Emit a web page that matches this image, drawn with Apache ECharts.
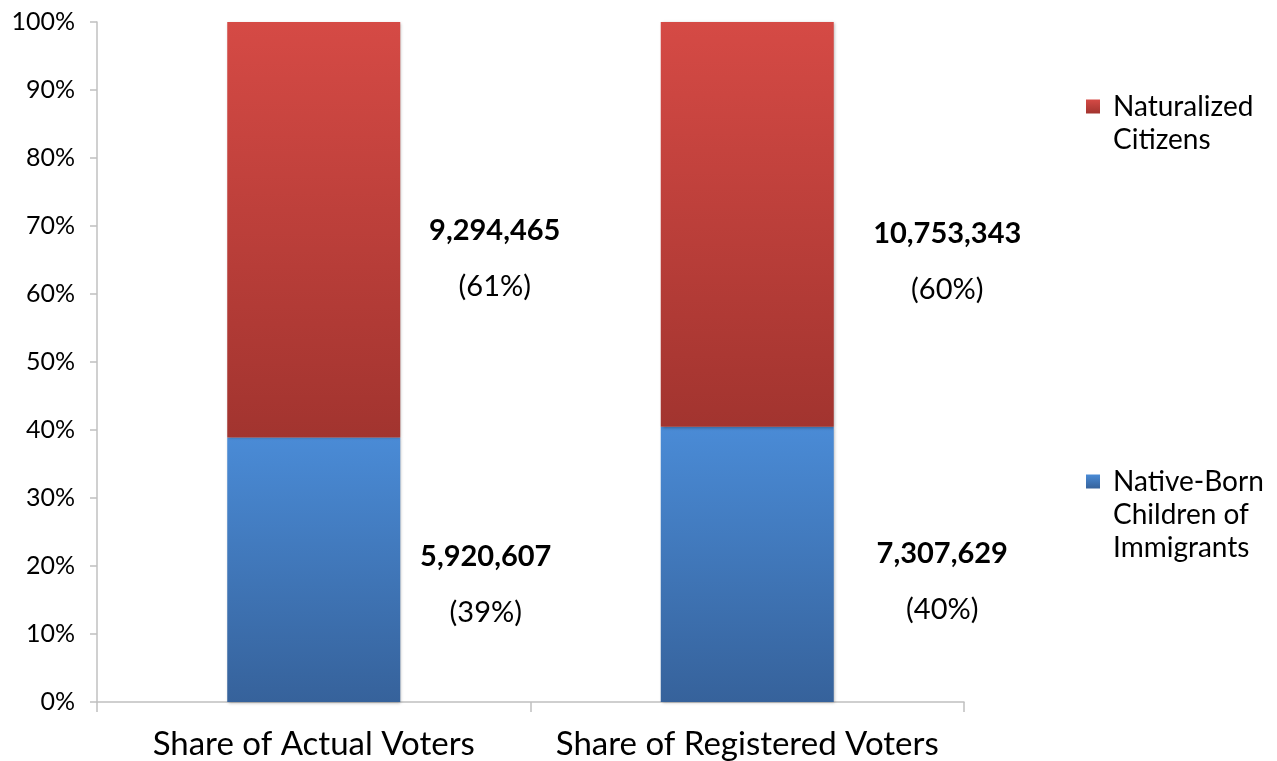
<!DOCTYPE html>
<html>
<head>
<meta charset="utf-8">
<script src="https://cdn.jsdelivr.net/npm/echarts@6/dist/echarts.min.js"></script>
<style>
  html, body { margin: 0; padding: 0; background: #fff; }
  #chart { width: 1277px; height: 761px; }
</style>
</head>
<body>
<div id="chart"></div>
<script>
// Voters in immigrant families, split by nativity
const categories = ['Share of Actual Voters', 'Share of Registered Voters'];
const naturalizedCounts = [9294465, 10753343];
const nativeBornCounts = [5920607, 7307629];
const seriesNames = ['Native-Born Children of Immigrants', 'Naturalized Citizens'];
const legendLines = {
  'Naturalized Citizens': ['Naturalized', 'Citizens'],
  'Native-Born Children of Immigrants': ['Native-Born', 'Children of', 'Immigrants']
};

const FONT = 'Lato';

// share of each group within a category, in percent
function shares(counts) {
  return counts.map((c, i) => c / (naturalizedCounts[i] + nativeBornCounts[i]) * 100);
}
const nativeShare = shares(nativeBornCounts);
const naturalizedShare = shares(naturalizedCounts);

// label anchor offsets from the centre of each bar segment, per category
const labelShift = {
  native: [[172, 15], [195, 17]],
  naturalized: [[181, 29], [200, 37]]
};

function buildData(share, counts, shift) {
  return share.map((v, i) => ({
    value: v,
    label: {
      offset: shift[i],
      formatter: () => '{v|' + counts[i].toLocaleString('en-US') + '}\n{p|(' + Math.round(v) + '%)}'
    }
  }));
}

const labelBase = {
  show: true,
  position: 'inside',
  align: 'center',
  verticalAlign: 'middle',
  rich: {
    v: { fontFamily: FONT, fontSize: 29, fontWeight: 'bold', color: '#000', lineHeight: 56 },
    p: { fontFamily: FONT, fontSize: 29, color: '#000', lineHeight: 56 }
  }
};

// legend text: the marker sits beside the first line, so pad the block with
// blank lines above so that the first line lands on the marker's centre
function legendText(name) {
  const lines = legendLines[name];
  return new Array(lines.length - 1).fill('').concat(lines).join('\n');
}

const barShadow = { shadowBlur: 3, shadowColor: 'rgba(0,0,0,0.3)', shadowOffsetX: 1, shadowOffsetY: 1 };

const chart = echarts.init(document.getElementById('chart'), null, { renderer: 'canvas' });

const legendStyle = {
  left: 1086, padding: 0,
  icon: 'rect', itemWidth: 14, itemHeight: 14,
  formatter: legendText,
  textStyle: { fontFamily: FONT, fontSize: 28, color: '#000', lineHeight: 33, padding: [0, 0, 0, 8] }
};

chart.setOption({
  animation: false,
  backgroundColor: '#fff',
  grid: { left: 97, right: 313, top: 22, bottom: 57, containLabel: false },
  legend: [
    Object.assign({ data: ['Naturalized Citizens'], top: 57 }, legendStyle),
    Object.assign({ data: ['Native-Born Children of Immigrants'], top: 399 }, legendStyle)
  ],
  xAxis: {
    type: 'category',
    data: categories,
    boundaryGap: true,
    axisLine: { lineStyle: { color: '#c0c0c0', width: 1.5 } },
    axisTick: { show: true, length: 10, lineStyle: { color: '#c0c0c0', width: 1.5 } },
    axisLabel: { fontFamily: FONT, fontSize: 33, color: '#000', margin: 26, interval: 0 }
  },
  yAxis: {
    type: 'value',
    min: 0, max: 100, interval: 10,
    axisLine: { show: true, lineStyle: { color: '#c0c0c0', width: 1.5 } },
    axisTick: { show: true, length: 7, lineStyle: { color: '#c0c0c0', width: 1.5 } },
    splitLine: { show: false },
    axisLabel: { fontFamily: FONT, fontSize: 25, color: '#000', margin: 22, formatter: '{value}%' }
  },
  series: [
    {
      name: seriesNames[0],
      type: 'bar',
      stack: 'share',
      barWidth: 173,
      data: buildData(nativeShare, nativeBornCounts, labelShift.native),
      label: labelBase,
      itemStyle: Object.assign({
        color: new echarts.graphic.LinearGradient(0, 0, 0, 1, [
          { offset: 0, color: '#4a8bd6' },
          { offset: 1, color: '#36629b' }
        ])
      }, barShadow)
    },
    {
      name: seriesNames[1],
      type: 'bar',
      stack: 'share',
      barWidth: 173,
      data: buildData(naturalizedShare, naturalizedCounts, labelShift.naturalized),
      label: labelBase,
      itemStyle: Object.assign({
        color: new echarts.graphic.LinearGradient(0, 0, 0, 1, [
          { offset: 0, color: '#d54a45' },
          { offset: 1, color: '#a2342f' }
        ])
      }, barShadow)
    }
  ]
});
</script>
</body>
</html>
